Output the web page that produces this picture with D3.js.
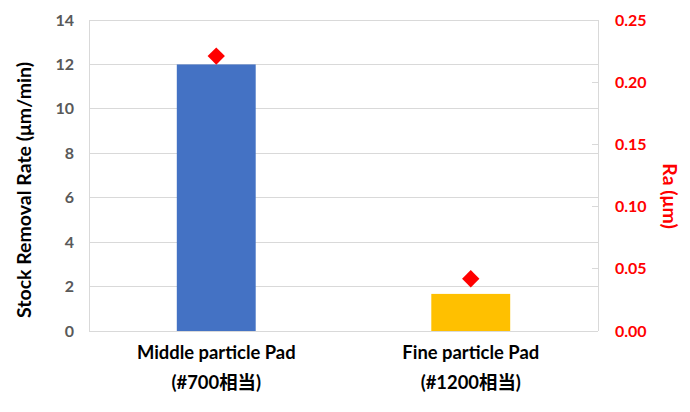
<!DOCTYPE html>
<html><head><meta charset="utf-8">
<script src="https://cdn.jsdelivr.net/npm/d3@7"></script>
<style>body{margin:0;background:#fff;}svg{display:block;font-family:Lato,"Noto Sans CJK JP",sans-serif;font-weight:bold;}</style>
</head><body>
<svg id="c" width="690" height="412"></svg>
<script>
const categories = ["Middle particle Pad", "Fine particle Pad"];
const subLabels = ["(#700相当)", "(#1200相当)"];
const removalRate = [12.0, 1.67];
const raValues = [0.221, 0.042];
const barColors = ["#4472C4", "#FFC000"];
const leftTicks = [0, 2, 4, 6, 8, 10, 12, 14];
const rightTicks = [0, 0.05, 0.10, 0.15, 0.20, 0.25];

const svg = d3.select("#c");
const m = {l: 89, r: 598, t: 20, b: 331};
const x = d3.scaleBand().domain(categories).range([m.l, m.r]).paddingInner(0.69).paddingOuter(0.345);
const yL = d3.scaleLinear().domain([0, 14]).range([m.b, m.t]);
const yR = d3.scaleLinear().domain([0, 0.25]).range([m.b, m.t]);

// gridlines
svg.append("g").selectAll("line").data(leftTicks).join("line")
  .attr("x1", m.l).attr("x2", m.r).attr("y1", d => yL(d)).attr("y2", d => yL(d))
  .attr("stroke", "#d9d9d9").attr("stroke-width", 1).attr("shape-rendering", "crispEdges");
// side borders
svg.append("line").attr("x1", m.l).attr("x2", m.l).attr("y1", m.t).attr("y2", m.b).attr("stroke", "#d9d9d9").attr("shape-rendering", "crispEdges");
svg.append("line").attr("x1", m.r).attr("x2", m.r).attr("y1", m.t).attr("y2", m.b).attr("stroke", "#d9d9d9").attr("shape-rendering", "crispEdges");
// right inward ticks
svg.append("g").selectAll("line").data(rightTicks).join("line")
  .attr("x1", m.r - 6).attr("x2", m.r).attr("y1", d => yR(d)).attr("y2", d => yR(d))
  .attr("stroke", "#d9d9d9").attr("shape-rendering", "crispEdges");

// bars
svg.append("g").selectAll("rect").data(categories).join("rect")
  .attr("x", d => x(d)).attr("width", x.bandwidth())
  .attr("y", (d, i) => yL(removalRate[i])).attr("height", (d, i) => yL(0) - yL(removalRate[i]))
  .attr("fill", (d, i) => barColors[i]);

// diamonds
const sym = d3.symbol().type(d3.symbolSquare).size(150);
svg.append("g").selectAll("path").data(categories).join("path")
  .attr("d", sym)
  .attr("transform", (d, i) => `translate(${x(d) + x.bandwidth() / 2},${yR(raValues[i])}) rotate(45)`)
  .attr("fill", "#FF0000");

// left tick labels
svg.append("g").selectAll("text").data(leftTicks).join("text")
  .attr("x", 74).attr("y", d => yL(d)).attr("dy", "0.35em").attr("text-anchor", "end")
  .attr("font-size", 16).attr("fill", "#595959").text(d => d);
// right tick labels
svg.append("g").selectAll("text").data(rightTicks).join("text")
  .attr("x", 615).attr("y", d => yR(d)).attr("dy", "0.35em").attr("text-anchor", "start")
  .attr("font-size", 16).attr("fill", "#FF0000").text(d => d3.format(".2f")(d));

// x labels
const xl = svg.append("g").selectAll("g").data(categories).join("g")
  .attr("transform", d => `translate(${x(d) + x.bandwidth() / 2},0)`);
xl.append("text").attr("y", 359).attr("text-anchor", "middle").attr("font-size", 18.4).attr("fill", "#000").text(d => d);
xl.append("text").attr("y", 389).attr("text-anchor", "middle").attr("font-size", 18.4).attr("fill", "#000").text((d, i) => subLabels[i]);

// axis titles
svg.append("text").attr("transform", `translate(31,190) rotate(-90)`)
  .attr("text-anchor", "middle").attr("font-size", 19.5).attr("fill", "#000").text("Stock Removal Rate (μm/min)");
svg.append("text").attr("transform", `translate(663,196) rotate(90)`)
  .attr("text-anchor", "middle").attr("font-size", 19.5).attr("fill", "#FF0000").text("Ra (μm)");
</script>
</body></html>
